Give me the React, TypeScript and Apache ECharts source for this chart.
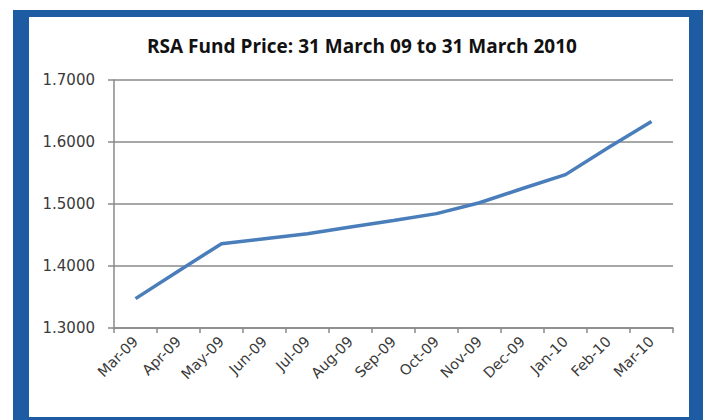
import React, { useEffect, useRef } from "react";
import * as echarts from "echarts";

const categories = ["Mar-09", "Apr-09", "May-09", "Jun-09", "Jul-09", "Aug-09", "Sep-09", "Oct-09", "Nov-09", "Dec-09", "Jan-10", "Feb-10", "Mar-10"];
const fundPrice = [1.3474, 1.392, 1.436, 1.444, 1.452, 1.463, 1.4735, 1.4845, 1.502, 1.525, 1.5474, 1.591, 1.633];
const yTicks = { min: 1.3, max: 1.7, interval: 0.1 };
const titleText = "RSA Fund Price: 31 March 09 to 31 March 2010";

export default function App() {
  const ref = useRef<HTMLDivElement>(null);
  useEffect(() => {
    if (!ref.current) return;
    const chart = echarts.init(ref.current, null, { renderer: "svg" });
    const gray = "#8a8a8a";
    chart.setOption({
      animation: false,
      backgroundColor: "#ffffff",
      graphic: [
        { type: "rect", z: -10, shape: { x: 13, y: 10, width: 690, height: 420 }, style: { fill: "#1d5ca3" }, silent: true },
        { type: "rect", z: -9, shape: { x: 29, y: 17, width: 660, height: 400 }, style: { fill: "#ffffff" }, silent: true },
      ],
      title: {
        text: titleText,
        left: 357,
        top: 31,
        textAlign: "center",
        textStyle: { fontFamily: "Open Sans", fontWeight: "bold", fontSize: 19, color: "#111111" },
      },
      grid: { left: 114, right: 35, top: 80, bottom: 92, containLabel: false },
      xAxis: {
        type: "category",
        data: categories,
        boundaryGap: true,
        axisLine: { lineStyle: { color: gray, width: 1.5 } },
        axisTick: { show: true, length: 5, alignWithLabel: false, lineStyle: { color: gray, width: 1.5 } },
        axisLabel: { rotate: 45, interval: 0, margin: 11, fontFamily: "DejaVu Sans", fontSize: 14.5, color: "#3a3a3a" },
        splitLine: { show: false },
      },
      yAxis: {
        type: "value",
        min: yTicks.min,
        max: yTicks.max,
        interval: yTicks.interval,
        axisLine: { show: true, lineStyle: { color: gray, width: 1.5 } },
        axisTick: { show: true, length: 6, lineStyle: { color: gray, width: 1.5 } },
        axisLabel: { margin: 19, fontFamily: "DejaVu Sans", fontSize: 15, color: "#3a3a3a", formatter: (v: number) => v.toFixed(4) },
        splitLine: { show: true, lineStyle: { color: gray, width: 1.5 } },
      },
      series: [
        {
          type: "line",
          data: fundPrice,
          symbol: "none",
          lineStyle: { color: "#4a7ebb", width: 3.5 },
        },
      ],
    });
    return () => chart.dispose();
  }, []);
  return <div ref={ref} style={{ position: "fixed", left: 0, top: 0, width: 708, height: 420 }} />;
}
